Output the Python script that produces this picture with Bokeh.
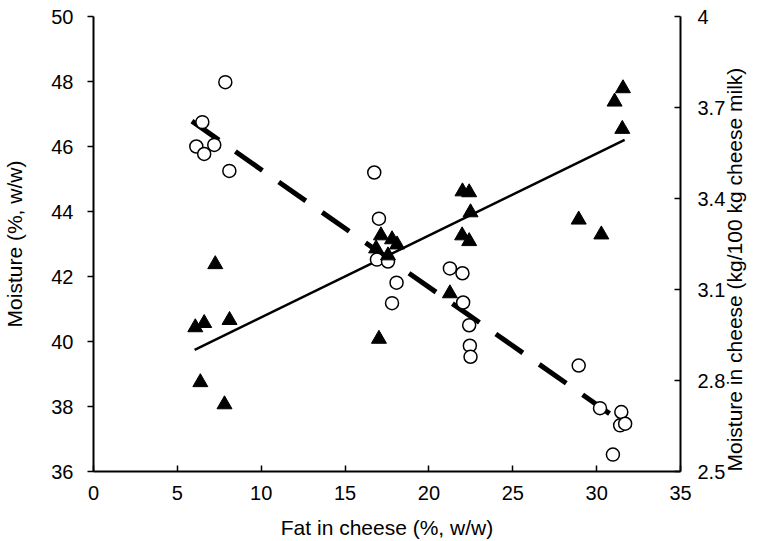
import math
from bokeh.plotting import figure
from bokeh.models import Range1d, LinearAxis, FixedTicker
from bokeh.embed import file_html
from bokeh.resources import INLINE

# Open circles: moisture in cheese (%, w/w) vs fat in cheese (%, w/w) -> left axis
circle_fat = [6.13, 6.49, 6.6, 7.2, 7.86, 8.1, 16.74, 17.02, 16.9, 17.56, 18.07, 17.8,
              21.25, 22.0, 22.04, 22.4, 22.44, 22.48, 28.93, 30.2, 31.47, 31.4, 31.7, 30.97]
circle_moisture = [46.0, 46.75, 45.77, 46.05, 47.98, 45.25, 45.2, 43.78, 42.52, 42.46, 41.81, 41.18,
                   42.25, 42.1, 41.2, 40.5, 39.87, 39.53, 39.26, 37.95, 37.83, 37.42, 37.47, 36.52]

# Filled triangles: moisture in cheese (kg/100 kg cheese milk) -> right axis
tri_fat = [6.07, 6.6, 8.11, 6.37, 7.81, 7.26, 17.02, 21.25, 22.0, 22.4, 22.48, 21.98, 22.4,
           28.93, 30.28, 31.57, 31.07, 31.53, 17.14, 17.8, 18.1, 16.85, 17.56]
tri_moisture = [2.975, 2.989, 2.999, 2.794, 2.721, 3.183, 2.937, 3.087, 3.423, 3.42, 3.354, 3.278, 3.259,
                3.330, 3.281, 3.763, 3.719, 3.629, 3.278, 3.265, 3.248, 3.235, 3.212]

# Fitted regression lines (end points)
fit_circle_fat = [5.87, 30.77]
fit_circle_moisture = [46.78, 37.78]
fit_tri_fat = [6.03, 31.67]
fit_tri_moisture = [2.901, 3.593]

x_ticks = [0, 5, 10, 15, 20, 25, 30, 35]
left_ticks = [36, 38, 40, 42, 44, 46, 48, 50]
right_ticks = [2.5, 2.8, 3.1, 3.4, 3.7, 4.0]
right_tick_labels = {2.5: "2.5", 2.8: "2.8", 3.1: "3.1", 3.4: "3.4", 3.7: "3.7", 4.0: "4"}

x_title = "Fat in cheese (%, w/w)"
left_title = "Moisture (%, w/w)"
right_title = "Moisture in cheese (kg/100 kg cheese milk)"

FONT = "Liberation Sans"

p = figure(width=760, height=541, x_range=Range1d(0, 35), y_range=Range1d(36, 50),
           output_backend="svg", toolbar_location=None,
           min_border_left=93, min_border_right=79, min_border_top=16, min_border_bottom=68)
p.extra_y_ranges = {"r": Range1d(2.5, 4.0)}
p.outline_line_color = None
p.xgrid.grid_line_color = None
p.ygrid.grid_line_color = None
p.background_fill_color = "white"
p.border_fill_color = "white"

def style_axis(ax):
    ax.axis_line_color = "black"
    ax.axis_line_width = 2
    ax.major_tick_line_color = "black"
    ax.major_tick_line_width = 1.5
    ax.minor_tick_line_color = None
    ax.major_label_text_font = FONT
    ax.major_label_text_font_size = "20px"
    ax.major_label_text_color = "black"
    ax.axis_label_text_font = FONT
    ax.axis_label_text_font_size = "21px"
    ax.axis_label_text_font_style = "normal"
    ax.axis_label_text_color = "black"

xa = p.xaxis[0]
style_axis(xa)
xa.ticker = FixedTicker(ticks=x_ticks)
xa.major_tick_in = 6
xa.major_tick_out = 0
xa.major_label_standoff = 14
xa.axis_label = x_title
xa.axis_label_standoff = 13

ya = p.yaxis[0]
style_axis(ya)
ya.ticker = FixedTicker(ticks=left_ticks)
ya.major_tick_in = 0
ya.major_tick_out = 6
ya.major_label_standoff = 14
ya.axis_label = left_title
ya.axis_label_standoff = 22

ra = LinearAxis(y_range_name="r")
style_axis(ra)
ra.ticker = FixedTicker(ticks=right_ticks)
ra.major_label_overrides = right_tick_labels
ra.major_tick_in = 6
ra.major_tick_out = 0
ra.major_label_standoff = 17
ra.axis_label = right_title
ra.axis_label_orientation = math.pi / 2
ra.axis_label_align = "start"
ra.axis_label_standoff = 6
p.add_layout(ra, "right")

# regression lines
p.line(fit_circle_fat, fit_circle_moisture, line_color="black", line_width=5,
       line_dash="33 20", line_cap="butt")
p.line(fit_tri_fat, fit_tri_moisture, line_color="black", line_width=2.5,
       y_range_name="r")

# data points
p.scatter(circle_fat, circle_moisture, marker="circle", size=13,
          fill_color="white", line_color="black", line_width=1.5)
p.scatter(tri_fat, tri_moisture, marker="triangle", size=15,
          fill_color="black", line_color="black", line_width=1, y_range_name="r")

open("out.html", "w").write(file_html(p, INLINE))
